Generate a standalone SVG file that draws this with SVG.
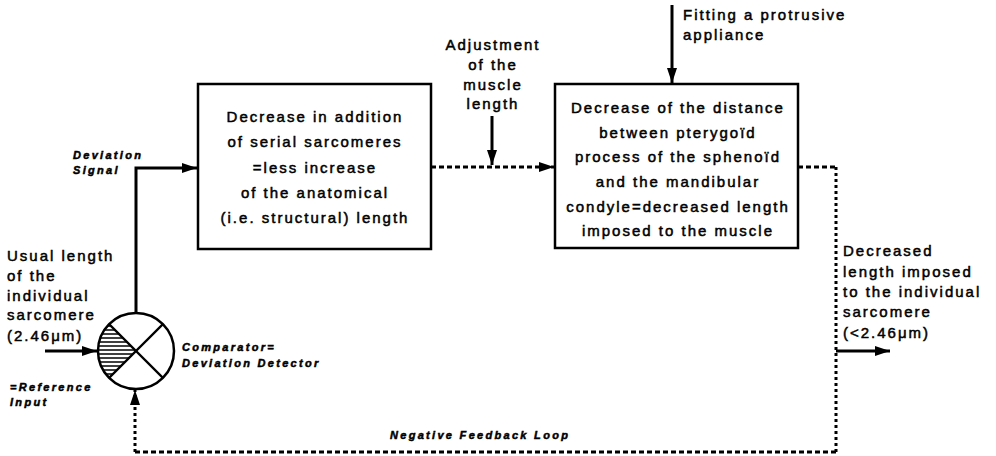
<svg xmlns="http://www.w3.org/2000/svg" width="996" height="456" viewBox="0 0 996 456">
<style>
.t{font-family:"Liberation Sans",Arial,sans-serif;font-size:15px;letter-spacing:2px;fill:#000;stroke:#000;stroke-width:0.5}
.m{text-anchor:middle}
.it{font-family:"Liberation Sans",Arial,sans-serif;font-size:11px;font-weight:bold;font-style:italic;letter-spacing:2.3px;fill:#000;stroke:#000;stroke-width:0.5}
.box{fill:#fff;stroke:#000;stroke-width:2.5}
.solid{fill:none;stroke:#000;stroke-width:3}
.dash{fill:none;stroke:#000;stroke-width:3;stroke-dasharray:5 3}
.dot{fill:none;stroke:#000;stroke-width:3;stroke-dasharray:3 3}
.hatch{stroke:#000;stroke-width:1.6}
</style>
<defs>
<marker id="arr" markerUnits="userSpaceOnUse" markerWidth="15" markerHeight="10" refX="15" refY="5" orient="auto">
<path d="M0,0 L15,5 L0,10 Z" fill="#000"/>
</marker>
<clipPath id="quad">
<path d="M136,351 L109.1,324.1 A38,38 0 0 0 109.1,377.9 Z"/>
</clipPath>
</defs>
<rect width="996" height="456" fill="#fff"/>

<g id="connectors">
<path class="solid" d="M136,313 V168 H197" marker-end="url(#arr)"/>
<path class="dash" d="M431,167 H554" marker-end="url(#arr)"/>
<path class="solid" d="M492,116 V165" marker-end="url(#arr)"/>
<path class="solid" d="M672,5 V83" marker-end="url(#arr)"/>
<path class="dash" d="M798,167 H836"/>
<path class="dot" d="M836,167 V452"/>
<path class="dash" d="M836,452 H135"/>
<path class="dot" d="M135,452 V390" marker-end="url(#arr)"/>
<path class="solid" d="M836,351 H890" marker-end="url(#arr)"/>
<path class="solid" d="M45,351 H97" marker-end="url(#arr)"/>
</g>

<g id="comparator">
<g clip-path="url(#quad)">
<line class="hatch" x1="95" y1="326" x2="140" y2="326"/>
<line class="hatch" x1="95" y1="330" x2="140" y2="330"/>
<line class="hatch" x1="95" y1="334" x2="140" y2="334"/>
<line class="hatch" x1="95" y1="338" x2="140" y2="338"/>
<line class="hatch" x1="95" y1="342" x2="140" y2="342"/>
<line class="hatch" x1="95" y1="346" x2="140" y2="346"/>
<line class="hatch" x1="95" y1="350" x2="140" y2="350"/>
<line class="hatch" x1="95" y1="354" x2="140" y2="354"/>
<line class="hatch" x1="95" y1="358" x2="140" y2="358"/>
<line class="hatch" x1="95" y1="362" x2="140" y2="362"/>
<line class="hatch" x1="95" y1="366" x2="140" y2="366"/>
<line class="hatch" x1="95" y1="370" x2="140" y2="370"/>
<line class="hatch" x1="95" y1="374" x2="140" y2="374"/>
</g>
<circle cx="136" cy="351" r="38" fill="none" stroke="#000" stroke-width="2.5"/>
<line x1="109.1" y1="324.1" x2="162.9" y2="377.9" stroke="#000" stroke-width="2.2"/>
<line x1="109.1" y1="377.9" x2="162.9" y2="324.1" stroke="#000" stroke-width="2.2"/>
<text class="it" x="182" y="351">Comparator=</text>
<text class="it" x="182" y="367">Deviation Detector</text>
</g>

<g id="box-decrease-addition">
<rect class="box" x="198" y="84" width="233" height="165"/>
<text class="t m" x="315" y="122">Decrease in addition</text>
<text class="t m" x="315" y="147">of serial sarcomeres</text>
<text class="t m" x="315" y="173">=less increase</text>
<text class="t m" x="315" y="198">of the anatomical</text>
<text class="t m" x="315" y="223">(i.e. structural) length</text>
</g>

<g id="box-decrease-distance">
<rect class="box" x="555" y="84" width="243" height="164"/>
<text class="t m" x="678" y="113">Decrease of the distance</text>
<text class="t m" x="678" y="138">between pterygoïd</text>
<text class="t m" x="678" y="162">process of the sphenoïd</text>
<text class="t m" x="678" y="187">and the mandibular</text>
<text class="t m" x="678" y="212">condyle=decreased length</text>
<text class="t m" x="678" y="236">imposed to the muscle</text>
</g>

<g id="label-usual-length">
<text class="t" x="7" y="261">Usual length</text>
<text class="t" x="7" y="281">of the</text>
<text class="t" x="7" y="301">individual</text>
<text class="t" x="7" y="320">sarcomere</text>
<text class="t" x="7" y="341">(2.46μm)</text>
</g>

<g id="label-reference">
<text class="it" x="10" y="391">=Reference</text>
<text class="it" x="10" y="406">Input</text>
</g>

<g id="label-deviation">
<text class="it" x="73" y="159">Deviation</text>
<text class="it" x="73" y="174">Signal</text>
</g>

<g id="label-adjustment">
<text class="t m" x="493" y="50">Adjustment</text>
<text class="t m" x="493" y="70">of the</text>
<text class="t m" x="493" y="90">muscle</text>
<text class="t m" x="493" y="109">length</text>
</g>

<g id="label-fitting">
<text class="t" x="683" y="20">Fitting a protrusive</text>
<text class="t" x="683" y="40">appliance</text>
</g>

<g id="label-output">
<text class="t" x="843" y="256">Decreased</text>
<text class="t" x="843" y="277">length imposed</text>
<text class="t" x="843" y="297">to the individual</text>
<text class="t" x="843" y="317">sarcomere</text>
<text class="t" x="843" y="338">(&lt;2.46μm)</text>
</g>

<g id="label-feedback">
<text class="it" x="390" y="439">Negative Feedback Loop</text>
</g>
</svg>
